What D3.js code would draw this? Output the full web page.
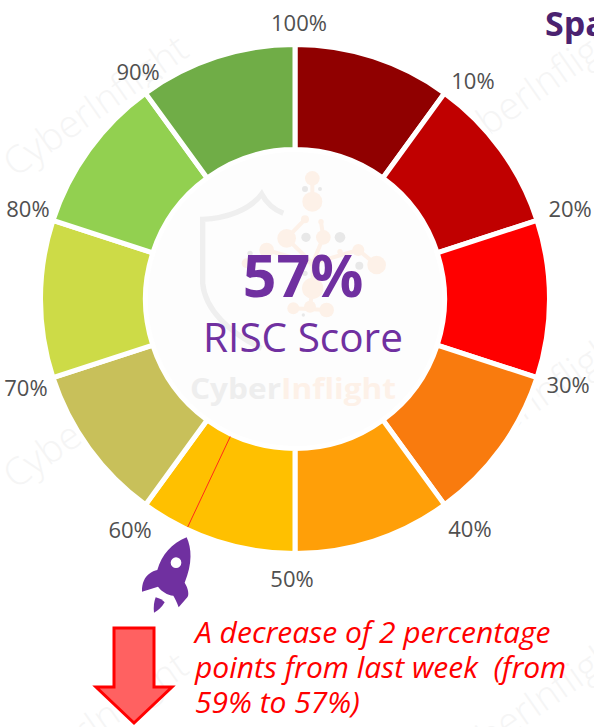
<!DOCTYPE html>
<html>
<head>
<meta charset="utf-8">
<script src="https://cdn.jsdelivr.net/npm/d3@7"></script>
<style>
  html, body { margin: 0; padding: 0; background: #fff; overflow: hidden; }
  text { font-family: "Open Sans", "Noto Sans", sans-serif; }
</style>
</head>
<body>
<svg id="chart" width="594" height="727"></svg>
<script>
// ring: ten equal bands, each one 10 points wide
var bands = [10, 10, 10, 10, 10, 10, 10, 10, 10, 10];
var bandColors = ["#900000", "#C00000", "#FF0000", "#F97B0E", "#FF9F08",
                  "#FFC000", "#C8C05A", "#CDDB47", "#92D050", "#70AD47"];
var tickValues = [100, 10, 20, 30, 40, 50, 60, 70, 80, 90];
var score = 57;
var scoreLabel = "RISC Score";
var titleText = "Spa";
var noteLines = ["A decrease of 2 percentage", "points from last week  (from", "59% to 57%)"];

var svg = d3.select("#chart");
var cx = 295, cy = 299, outer = 252, inner = 152, gap = 5;

// same angle for ticks and for the score marker
var angle = d3.scaleLinear().domain([0, 100]).range([0, 2 * Math.PI]);

// watermark behind everything, repeats down two columns
var marks = [[15, 178], [15, 490], [15, 795], [455, 160], [455, 470], [455, 775]];
svg.selectAll("text.wm")
    .data(marks)
  .enter().append("text")
    .attr("class", "wm")
    .attr("transform", function(d){ return "translate(" + d[0] + "," + d[1] + ") rotate(-35)"; })
    .attr("font-size", 38)
    .attr("font-weight", 300)
    .attr("fill", "#f5f5f5")
    .text("CyberInflight");

var ring = svg.append("g").attr("transform", "translate(" + cx + "," + cy + ")");

var pie = d3.pie().sort(null);
// white stroke eats half the gap on each edge
var arc = d3.arc().innerRadius(inner - gap / 2).outerRadius(outer + gap / 2);

ring.append("circle").attr("r", inner).attr("fill", "#fdfdfd");

ring.selectAll("path.band")
    .data(pie(bands))
  .enter().append("path")
    .attr("class", "band")
    .attr("d", arc)
    .attr("fill", function(d, i){ return bandColors[i]; })
    .attr("stroke", "#fff")
    .attr("stroke-width", gap);

// score marker
var a = angle(score);
ring.append("line")
    .attr("x1", Math.sin(a) * inner)
    .attr("y1", -Math.cos(a) * inner)
    .attr("x2", Math.sin(a) * outer)
    .attr("y2", -Math.cos(a) * outer)
    .attr("stroke", "#FF2A1A")
    .attr("stroke-width", 1);

// tick labels, excel does not put them on a perfect circle
var labelRadius = 284;
var labelNudge = [[4, 16], [11, 20], [5, 6], [3, 6], [8, 8], [-3, 4], [2, 9], [1, 9], [3, 6], [10, 11]];
ring.selectAll("text.tick")
    .data(tickValues)
  .enter().append("text")
    .attr("class", "tick")
    .attr("x", function(d, i){ return Math.sin(angle(d)) * labelRadius + labelNudge[i][0]; })
    .attr("y", function(d, i){ return -Math.cos(angle(d)) * labelRadius + labelNudge[i][1]; })
    .attr("text-anchor", "middle")
    .attr("font-size", 22)
    .attr("fill", "#505050")
    .text(function(d){ return d + "%"; });

var logo = svg.append("g").attr("transform", "translate(120,150) scale(0.3333)");
logo.append("path")
    .attr("d", "M490,190 C465,180 440,160 425,132 C390,180 320,205 248,208 L248,400 C255,480 330,550 425,595")
    .attr("fill", "none")
    .attr("stroke", "#efefef")
    .attr("stroke-width", 16);
logo.append("path")
    .attr("d", "M577,85 L577,155 M500,265 L578,340 L578,415 M610,262 L578,340 L715,300 L770,345 M440,300 L578,340 M520,475 L620,480 M578,415 L570,470 M555,208 L500,265 M603,215 L610,262")
    .attr("fill", "none")
    .attr("stroke", "#fdf1e8")
    .attr("stroke-width", 12);
var orangeDots = [[577,85,22],[577,155,30],[555,208,12],[603,215,8],[500,265,28],[610,262,22],[440,300,22],
                  [715,300,18],[770,345,28],[578,415,32],[520,475,18],[570,470,18],[620,480,22],[660,305,8],[380,340,15]];
var greyDots = [[555,117,9],[600,117,6],[558,262,14],[660,262,16],[718,347,12],[390,310,8],[550,495,5],[555,370,8]];
logo.selectAll("circle.o").data(orangeDots).enter().append("circle")
    .attr("class", "o")
    .attr("cx", function(d){ return d[0]; })
    .attr("cy", function(d){ return d[1]; })
    .attr("r", function(d){ return d[2]; })
    .attr("fill", "#fdf1e8");
logo.selectAll("circle.g").data(greyDots).enter().append("circle")
    .attr("class", "g")
    .attr("cx", function(d){ return d[0]; })
    .attr("cy", function(d){ return d[1]; })
    .attr("r", function(d){ return d[2]; })
    .attr("fill", "#e8e8e8");

var logoText = svg.append("text")
    .attr("x", 190).attr("y", 399)
    .attr("font-size", 29)
    .attr("font-weight", 700)
    .attr("textLength", 206)
    .attr("lengthAdjust", "spacingAndGlyphs");
logoText.append("tspan").attr("fill", "#eeeeee").text("Cyber");
logoText.append("tspan").attr("fill", "#fdf1e8").text("Inflight");

// centre texts
svg.append("text")
    .attr("x", 303).attr("y", 297)
    .attr("text-anchor", "middle")
    .attr("font-size", 59)
    .attr("font-weight", 700)
    .attr("fill", "#7030A0")
    .text(score + "%");
svg.append("text")
    .attr("x", 303).attr("y", 352)
    .attr("text-anchor", "middle")
    .attr("font-size", 40.5)
    .attr("fill", "#7030A0")
    .text(scoreLabel);

// cut title on the right edge
svg.append("text")
    .attr("x", 545).attr("y", 36)
    .attr("font-size", 34)
    .attr("font-weight", 700)
    .attr("fill", "#4B2270")
    .text(titleText);

// rocket, same 3x crop coordinates
var rocket = svg.append("g").attr("transform", "translate(80,420) scale(0.3333)").attr("fill", "#7030A0");
rocket.append("path")
    .attr("fill-rule", "evenodd")
    .attr("d", "M320,352 C335,385 338,430 314,488 C325,505 328,525 322,532 L296,562 C290,545 285,535 280,527 C262,525 245,515 234,500 L186,515 C185,490 195,470 207,462 C215,455 225,452 232,450 C245,405 275,370 320,352 Z M288,412 A16,16 0 1 0 288.1,444 A16,16 0 1 0 288,412 Z");
rocket.append("path").attr("d", "M227,532 C240,535 248,540 254,547 C245,562 235,572 222,578 C220,560 222,545 227,532 Z");

// down arrow
svg.append("path")
    .attr("d", d3.line()([[114,628],[154,628],[154,687],[172,687],[134,723],[96,687],[114,687]]) + "Z")
    .attr("fill", "#FF6161")
    .attr("stroke", "#FF0000")
    .attr("stroke-width", 3);

// note next to the arrow
svg.selectAll("text.note")
    .data(noteLines)
  .enter().append("text")
    .attr("class", "note")
    .attr("x", 195)
    .attr("y", function(d, i){ return 643 + i * 35; })
    .attr("font-size", 30)
    .attr("font-style", "italic")
    .attr("fill", "#FF0000")
    .attr("xml:space", "preserve")
    .style("white-space", "pre")
    .text(function(d){ return d; });
</script>
</body>
</html>
